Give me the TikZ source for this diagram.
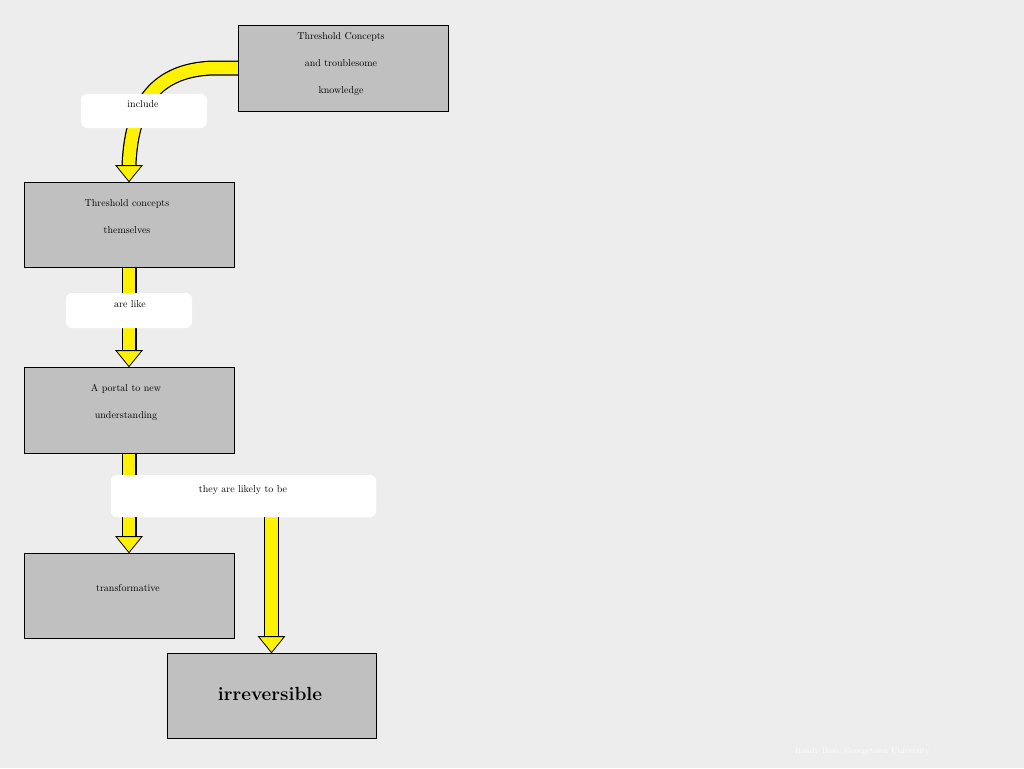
\documentclass[tikz,border=0pt]{standalone}
\usetikzlibrary{calc}
\definecolor{bg}{RGB}{237,237,237}
\definecolor{boxg}{RGB}{192,192,192}
\begin{document}
\begin{tikzpicture}[x=1pt,y=-1pt,
  cbox/.style={draw=black,fill=boxg,line width=0.8pt,inner sep=0pt},
  lbl/.style={fill=white,rounded corners=6pt,inner sep=0pt},
  txt/.style={font=\fontsize{10}{27}\selectfont,align=center,anchor=north}]
\fill[bg] (0,0) rectangle (1024,768);
\useasboundingbox (0,0) rectangle (1024,768);
% boxes (as nodes)
\node[cbox,minimum width=210pt,minimum height=86pt] (top) at (343,68) {};
\node[cbox,minimum width=210pt,minimum height=85pt] (a) at (129,224.5) {};
\node[cbox,minimum width=210pt,minimum height=86pt] (b) at (129,410) {};
\node[cbox,minimum width=210pt,minimum height=85pt] (c) at (129,595.5) {};
\node[cbox,minimum width=209pt,minimum height=85pt] (d) at (271.5,695.5) {};
\node[lbl,minimum width=265pt,minimum height=42pt] (l3) at (243.5,496) {};
% arrows
\newcommand{\fatarrow}[2]{%
  \draw[black,line width=15pt] #1;
  \draw[yellow,line width=12.5pt] #1;
  \filldraw[fill=yellow,draw=black,line width=0.8pt] #2;}
\coordinate (p1) at ($(top.west)+(0.5,0)$);
\coordinate (t1) at (a.north);
\fatarrow{(p1) -- ++(-25,0) .. controls (150,70) and (131,112) .. ($(t1)+(0,-16)$)}{($(t1)+(-13,-16)$) -- ($(t1)+(13,-16)$) -- (t1) -- cycle}
\fatarrow{(a.south) -- ($(b.north)+(0,-16)$)}{($(b.north)+(-13,-16)$) -- ($(b.north)+(13,-16)$) -- (b.north) -- cycle}
\fatarrow{(b.south) -- ($(c.north)+(0,-16)$)}{($(c.north)+(-13,-16)$) -- ($(c.north)+(13,-16)$) -- (c.north) -- cycle}
\coordinate (s4) at (d.north |- l3.south);
\fatarrow{(s4) -- ($(d.north)+(0,-16)$)}{($(d.north)+(-13,-16)$) -- ($(d.north)+(13,-16)$) -- (d.north) -- cycle}
\node[cbox,minimum width=210pt,minimum height=86pt] at (top) {};
\node[cbox,minimum width=210pt,minimum height=85pt] at (a) {};
\node[cbox,minimum width=210pt,minimum height=86pt] at (b) {};
\node[cbox,minimum width=210pt,minimum height=85pt] at (c) {};
\node[cbox,minimum width=209pt,minimum height=85pt] at (d) {};
% labels
\node[lbl,minimum width=126pt,minimum height=34pt] (l1) at (144,111) {};
\node[lbl,minimum width=126pt,minimum height=35pt] (l2) at (129,310.5) {};
\node[lbl,minimum width=265pt,minimum height=42pt] at (l3) {};
% texts
\node[txt] (tt) at (341,29) {Threshold Concepts\\and troublesome\\knowledge};
\node[txt] (ta) at (127,196) {Threshold concepts\\themselves};
\node[txt] (tb) at (126,381) {A portal to new\\understanding};
\node[txt] (tc) at (128,581) {transformative};
\node[font=\bfseries\fontsize{19}{22}\selectfont] (td) at (270,694) {irreversible};
\node[txt] (tl1) at (143,97) {include};
\node[txt] (tl2) at (130,297) {are like};
\node[txt] (tl3) at (243,482) {they are likely to be};
\node[white,font=\fontsize{8}{10}\selectfont] (cr) at (862,751) {Randy Bass, Georgetown University};
\end{tikzpicture}
\end{document}
